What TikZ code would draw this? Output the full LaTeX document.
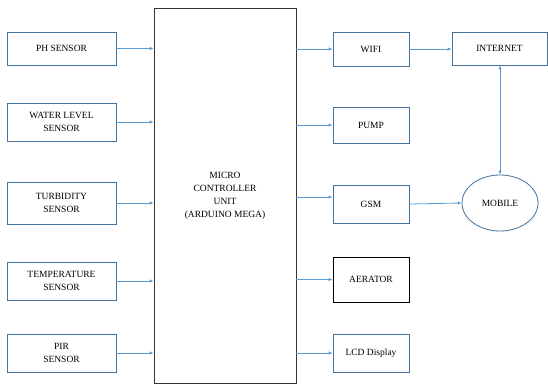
\documentclass[tikz,border=0pt]{standalone}
\usepackage{fontspec}
\setmainfont{Liberation Serif}
\usetikzlibrary{arrows.meta,shapes.geometric}
\definecolor{boxblue}{HTML}{41719C}
\definecolor{arrblue}{HTML}{5B9BD5}
\begin{document}
\begin{tikzpicture}[x=1pt,y=-1pt,
  blk/.style={draw=boxblue,line width=0.8pt,align=center,font=\fontsize{9.5}{13}\selectfont,inner sep=0pt},
  conn/.style={draw=arrblue,line width=0.8pt,-{Latex[length=4pt,width=3.5pt]}}]
\useasboundingbox (0,0) rectangle (548,385);
% left sensors
\node[blk,minimum width=109pt,minimum height=33pt] (ph) at (61.5,48.5) {PH SENSOR};
\node[blk,minimum width=109pt,minimum height=38pt] (wl) at (61.5,122) {WATER LEVEL\\SENSOR};
\node[blk,minimum width=109pt,minimum height=42pt] (tb) at (61.5,203) {TURBIDITY\\SENSOR};
\node[blk,minimum width=109pt,minimum height=38pt] (tp) at (61.5,281) {TEMPERATURE\\SENSOR};
\node[blk,minimum width=109pt,minimum height=38pt] (pir) at (61.5,353) {PIR\\SENSOR};
% MCU
\node[blk,draw=black!80,minimum width=142pt,minimum height=375pt] (mcu) at (225,195.5) {MICRO\\CONTROLLER\\UNIT\\(ARDUINO MEGA)};
% right blocks
\node[blk,minimum width=76pt,minimum height=34pt] (wifi) at (371,49) {WIFI};
\node[blk,minimum width=76pt,minimum height=36pt] (pump) at (371,125) {PUMP};
\node[blk,minimum width=76pt,minimum height=38pt] (gsm) at (371,204) {GSM};
\node[blk,draw=black,minimum width=76pt,minimum height=45pt] (aer) at (371,279.5) {AERATOR};
\node[blk,minimum width=76pt,minimum height=38pt] (lcd) at (371,353) {LCD Display};
\node[blk,minimum width=95pt,minimum height=33pt] (net) at (499.5,48.5) {INTERNET};
\node[blk,ellipse,minimum width=76pt,minimum height=56pt] (mob) at (500,203) {MOBILE};
% connectors
\draw[conn] (ph.east) -- (ph.east -| mcu.west);
\draw[conn] (wl.east) -- (wl.east -| mcu.west);
\draw[conn] (tb.east) -- (tb.east -| mcu.west);
\draw[conn] (tp.east) -- (tp.east -| mcu.west);
\draw[conn] (pir.east) -- (pir.east -| mcu.west);
\draw[conn] (wifi.west -| mcu.east) -- (wifi.west);
\draw[conn] (pump.west -| mcu.east) -- (pump.west);
\draw[conn] (mcu.east |- 0,197) -- (gsm.west |- 0,197);
\draw[conn] (aer.west -| mcu.east) -- (aer.west);
\draw[conn] (lcd.west -| mcu.east) -- (lcd.west);
\draw[conn] (wifi.east) -- (net.west |- wifi.east);
\draw[conn] (gsm.east) -- (mob.west);
\draw[conn,{Latex[length=4pt,width=3.5pt]}-{Latex[length=4pt,width=3.5pt]}] (net.south -| mob.north) -- (mob.north);
\end{tikzpicture}
\end{document}
